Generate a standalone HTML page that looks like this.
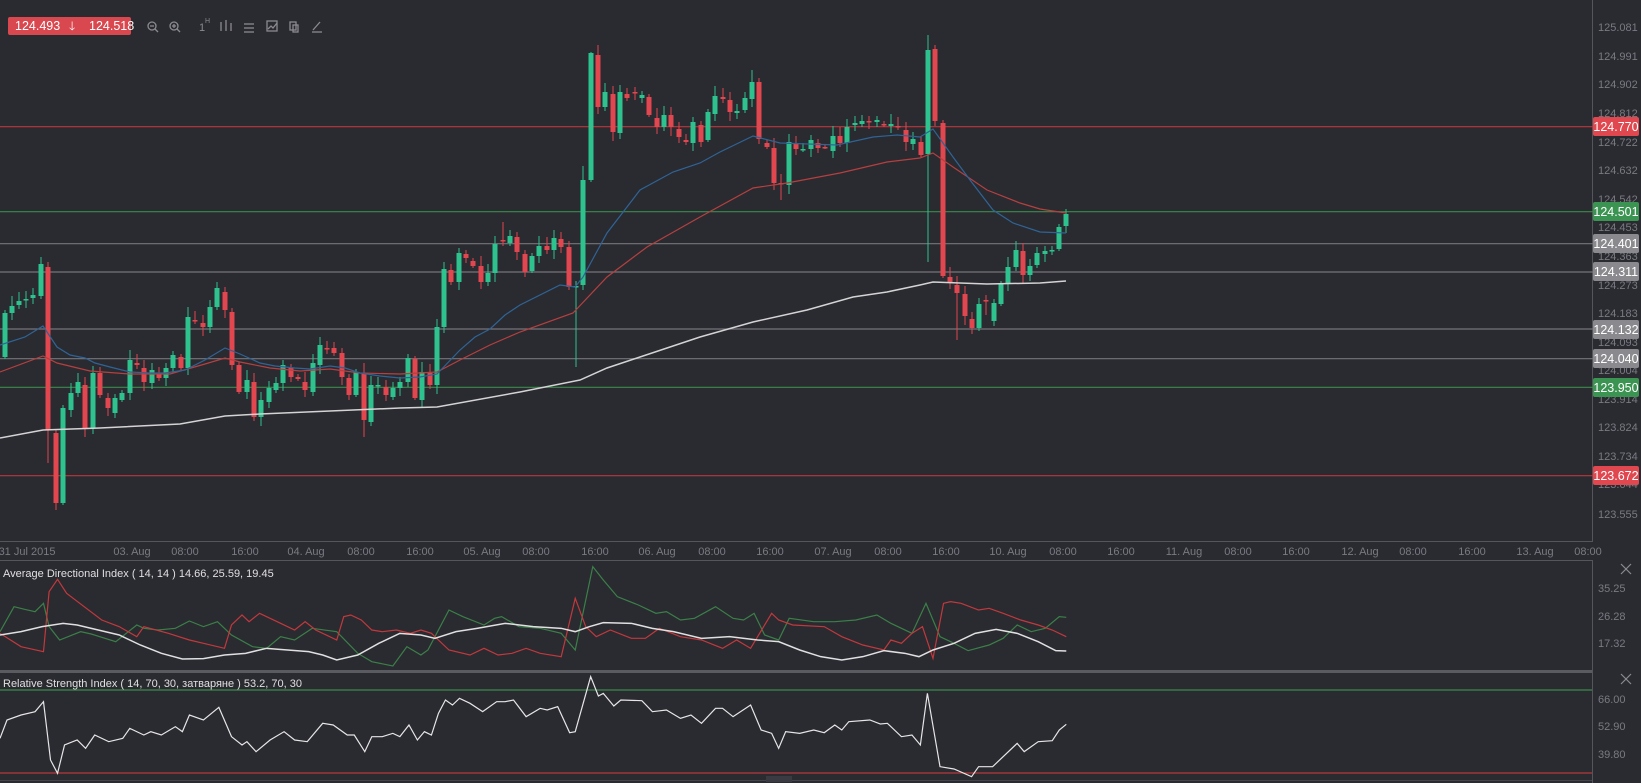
<!DOCTYPE html>
<html><head><meta charset="utf-8"><style>
html,body{margin:0;padding:0;background:#2a2a31;width:1641px;height:783px;overflow:hidden;font-family:"Liberation Sans",sans-serif;}
svg{display:block}
</style></head><body>
<svg id="s" width="1641" height="783" xmlns="http://www.w3.org/2000/svg" font-family="Liberation Sans, sans-serif">
<rect width="1641" height="783" fill="#2a2a31"/>
<line x1="1592.5" y1="0" x2="1592.5" y2="542" stroke="#55555c" stroke-width="1"/>
<line x1="0" y1="541.5" x2="1592" y2="541.5" stroke="#55555c"/>
<line x1="0" y1="560.5" x2="1592" y2="560.5" stroke="#55555c"/>
<line x1="1592.5" y1="560" x2="1592.5" y2="783" stroke="#55555c"/>
<rect x="0" y="670" width="1592" height="3" fill="#5a5a61"/>
<line x1="0" y1="780.5" x2="1592" y2="780.5" stroke="#44444a"/>
<g fill="#7a7a82" font-size="11" text-anchor="middle">
<text x="27" y="555">31 Jul 2015</text>
<text x="132" y="555">03. Aug</text><text x="185" y="555">08:00</text><text x="245" y="555">16:00</text>
<text x="306" y="555">04. Aug</text><text x="361" y="555">08:00</text><text x="420" y="555">16:00</text>
<text x="482" y="555">05. Aug</text><text x="536" y="555">08:00</text><text x="595" y="555">16:00</text>
<text x="657" y="555">06. Aug</text><text x="712" y="555">08:00</text><text x="770" y="555">16:00</text>
<text x="833" y="555">07. Aug</text><text x="888" y="555">08:00</text><text x="946" y="555">16:00</text>
<text x="1008" y="555">10. Aug</text><text x="1063" y="555">08:00</text><text x="1121" y="555">16:00</text>
<text x="1184" y="555">11. Aug</text><text x="1238" y="555">08:00</text><text x="1296" y="555">16:00</text>
<text x="1360" y="555">12. Aug</text><text x="1413" y="555">08:00</text><text x="1472" y="555">16:00</text>
<text x="1535" y="555">13. Aug</text><text x="1588" y="555">08:00</text>
</g>
<g fill="#7a7a82" font-size="11">
<text x="1598" y="31">125.081</text><text x="1598" y="60">124.991</text><text x="1598" y="88">124.902</text>
<text x="1598" y="117">124.812</text><text x="1598" y="146">124.722</text><text x="1598" y="174">124.632</text>
<text x="1598" y="203">124.542</text><text x="1598" y="231">124.453</text><text x="1598" y="260">124.363</text>
<text x="1598" y="289">124.273</text><text x="1598" y="317">124.183</text><text x="1598" y="346">124.093</text>
<text x="1598" y="374">124.004</text><text x="1598" y="403">123.914</text><text x="1598" y="431">123.824</text>
<text x="1598" y="460">123.734</text><text x="1598" y="488">123.644</text><text x="1598" y="518">123.555</text>
<text x="1598" y="592">35.25</text><text x="1598" y="620">26.28</text><text x="1598" y="647">17.32</text>
<text x="1598" y="703">66.00</text><text x="1598" y="730">52.90</text><text x="1598" y="758">39.80</text>
</g>
<g stroke-width="1.2">
<line x1="0" y1="126.7" x2="1593" y2="126.7" stroke="#b8393c"/>
<line x1="0" y1="211.7" x2="1593" y2="211.7" stroke="#3b8a4c"/>
<line x1="0" y1="243.7" x2="1593" y2="243.7" stroke="#75757a"/>
<line x1="0" y1="272" x2="1593" y2="272" stroke="#75757a"/>
<line x1="0" y1="329" x2="1593" y2="329" stroke="#75757a"/>
<line x1="0" y1="358.7" x2="1593" y2="358.7" stroke="#75757a"/>
<line x1="0" y1="387.3" x2="1593" y2="387.3" stroke="#3b8a4c"/>
<line x1="0" y1="475.7" x2="1593" y2="475.7" stroke="#b8393c"/>
<line x1="0" y1="690" x2="1592" y2="690" stroke="#3b8a4c"/>
<line x1="0" y1="773" x2="1592" y2="773" stroke="#b8393c"/>
</g>
<g font-size="12.5" fill="#fff" text-anchor="middle">
<rect x="1593" y="117" width="46" height="19" rx="2" fill="#e0474f"/><text x="1616" y="131">124.770</text>
<rect x="1593" y="202" width="46" height="19" rx="2" fill="#3c9452"/><text x="1616" y="216">124.501</text>
<rect x="1593" y="234" width="46" height="19" rx="2" fill="#8a8a8e"/><text x="1616" y="248">124.401</text>
<rect x="1593" y="262" width="46" height="19" rx="2" fill="#8a8a8e"/><text x="1616" y="276">124.311</text>
<rect x="1593" y="320" width="46" height="19" rx="2" fill="#8a8a8e"/><text x="1616" y="334">124.132</text>
<rect x="1593" y="349" width="46" height="19" rx="2" fill="#8a8a8e"/><text x="1616" y="363">124.040</text>
<rect x="1593" y="378" width="46" height="19" rx="2" fill="#3c9452"/><text x="1616" y="392">123.950</text>
<rect x="1593" y="466" width="46" height="19" rx="2" fill="#e0474f"/><text x="1616" y="480">123.672</text>
</g>
<g id="candles"></g>
<polyline fill="none" stroke="#d4d4d4" stroke-width="1.5" points="0,438 43,430 100,428 180,424 225,416 260,414 330,411 400,408 437,407 520,392 580,380 607,368 640,357 667,348 700,337 753,322 807,310 853,297 887,292 920,285 933,282 987,284 1040,283 1066,281"/>
<polyline fill="none" stroke="#b5403f" stroke-width="1.2" points="0,372 43,356 57,363 90,371 130,374 170,374 205,364 225,358 240,362 270,368 300,371 330,369 360,373 400,374 437,372 460,360 490,345 520,332 573,313 607,277 647,247 700,217 753,188 787,183 840,173 887,162 920,158 933,153 953,167 987,190 1020,203 1040,209 1066,213"/>
<polyline fill="none" stroke="#2f6495" stroke-width="1.2" points="0,345 25,337 43,326 57,347 70,355 85,358 95,363 110,367 130,372 150,373 165,373 185,370 205,360 225,348 240,354 260,363 275,366 295,368 310,369 330,366 345,368 360,373 380,376 400,378 420,377 437,374 460,350 475,337 490,329 505,315 520,305 560,285 575,287 583,277 607,233 640,190 673,172 700,163 720,152 753,136 780,143 837,145 873,137 897,135 920,137 933,129 953,157 970,180 993,210 1013,223 1040,232 1066,233"/>
<text x="3" y="577" font-size="11" fill="#e0e0e0">Average Directional Index ( 14, 14 ) 14.66, 25.59, 19.45</text>
<g transform="translate(0,560) scale(0.7015,0.33333)" fill="none" stroke-width="1.2">
<polyline vector-effect="non-scaling-stroke" stroke="#3b8048" points="0,215 20,140 35,148 50,155 62,130 70,200 85,240 115,215 130,222 165,245 195,195 205,205 225,210 250,205 270,183 290,200 310,185 330,225 360,260 380,265 400,230 420,240 445,205 480,215 510,280 530,305 560,318 580,260 600,285 610,270 640,150 660,170 690,195 705,175 715,170 740,200 770,205 800,220 820,270 845,20 860,60 880,110 910,135 935,160 950,155 970,180 990,175 1020,140 1045,175 1060,180 1075,160 1090,225 1110,240 1125,175 1160,185 1190,185 1220,180 1250,165 1270,190 1300,220 1320,130 1340,230 1360,250 1380,272 1410,255 1430,235 1450,195 1470,215 1490,205 1510,170 1520,172"/>
<polyline vector-effect="non-scaling-stroke" stroke="#c2393c" points="0,220 30,260 62,275 70,95 82,58 95,100 120,140 145,180 170,200 195,230 205,200 240,220 270,240 290,250 320,265 330,195 345,165 355,185 370,160 400,190 420,210 435,185 450,210 480,240 490,170 500,165 515,180 530,210 545,215 565,210 585,220 600,210 615,220 640,270 670,285 690,265 710,285 730,280 750,265 770,280 800,290 820,115 835,200 850,230 870,210 900,235 920,235 940,205 970,230 1000,240 1030,265 1050,240 1070,265 1100,160 1110,180 1130,195 1175,200 1200,230 1230,255 1260,270 1270,240 1285,250 1300,220 1315,200 1330,295 1345,130 1355,125 1370,130 1395,150 1410,145 1430,160 1455,180 1480,195 1500,210 1520,230"/>
<polyline vector-effect="non-scaling-stroke" stroke="#e0e0e0" stroke-width="1.5" points="0,225 30,215 60,200 90,190 110,195 140,210 170,225 200,255 230,280 260,297 290,296 320,285 350,280 380,265 410,270 440,275 460,285 480,300 510,285 540,250 570,220 600,225 620,235 650,215 680,205 720,190 760,200 800,205 820,215 840,200 860,188 900,190 930,205 960,215 1000,235 1040,230 1080,240 1110,245 1140,270 1170,290 1200,300 1230,290 1260,272 1290,280 1310,290 1330,270 1360,250 1390,220 1420,208 1450,220 1480,245 1505,272 1520,273"/>
</g>
<text x="3" y="687" font-size="11" fill="#e0e0e0">Relative Strength Index ( 14, 70, 30, затваряне ) 53.2, 70, 30</text>
<g transform="translate(0,560) scale(0.7015,0.33333)" fill="none">
<polyline vector-effect="non-scaling-stroke" stroke="#e6e6e6" stroke-width="1.2" points="0,535 10,480 30,465 50,455 62,425 72,600 82,640 92,555 110,540 122,565 135,525 155,545 175,535 185,505 205,525 215,515 230,525 250,500 260,515 270,465 290,480 312,442 330,530 345,555 352,545 365,575 385,540 405,515 420,540 438,545 460,490 475,495 495,525 505,525 520,575 530,530 545,530 560,520 570,530 583,495 595,540 605,515 615,525 625,460 635,420 645,435 655,415 670,430 688,455 708,425 720,425 732,420 750,470 770,445 780,450 795,440 812,518 820,515 842,350 853,408 860,400 875,438 885,420 915,422 930,455 950,450 970,475 985,465 1000,490 1020,445 1030,445 1045,470 1070,435 1085,510 1100,520 1110,565 1120,515 1140,520 1160,510 1175,518 1190,495 1200,510 1210,485 1240,480 1255,492 1265,490 1285,530 1300,525 1312,555 1322,400 1340,620 1360,627 1385,650 1395,620 1415,620 1450,550 1460,575 1480,545 1500,542 1510,510 1520,493"/>
</g>
<g stroke="#8a8a90" stroke-width="1.2">
<line x1="1621" y1="564" x2="1631" y2="574"/><line x1="1631" y1="564" x2="1621" y2="574"/>
<line x1="1621" y1="674" x2="1631" y2="684"/><line x1="1631" y1="674" x2="1621" y2="684"/>
</g>
<rect x="766" y="776" width="26" height="6" fill="#3a3a42"/>
<rect x="8" y="17" width="123" height="18" rx="2" fill="#d9474f"/>
<text x="15" y="30" font-size="12.5" fill="#fff">124.493</text>
<text x="69" y="30" font-size="12" fill="#fff">🡓</text>
<text x="89" y="30" font-size="12.5" fill="#fff">124.518</text>
<g stroke="#8a8a90" fill="none" stroke-width="1.3">
<circle cx="152" cy="26" r="4"/><line x1="155" y1="29" x2="158" y2="32"/><line x1="150" y1="26" x2="154" y2="26"/>
<circle cx="174" cy="26" r="4"/><line x1="177" y1="29" x2="180" y2="32"/><line x1="172" y1="26" x2="176" y2="26"/><line x1="174" y1="24" x2="174" y2="28"/>
<line x1="221" y1="22" x2="221" y2="31"/><line x1="226" y1="20" x2="226" y2="31"/><line x1="231" y1="23" x2="231" y2="31"/>
<line x1="244" y1="24" x2="254" y2="24"/><line x1="244" y1="28" x2="254" y2="28"/><line x1="244" y1="32" x2="254" y2="32"/>
<rect x="267" y="21" width="10" height="10"/><polyline points="268,29 271,26 273,28 277,23"/>
<rect x="290" y="22" width="6" height="8"/><rect x="293" y="25" width="5" height="7"/>
<line x1="312" y1="32" x2="322" y2="32"/><line x1="313" y1="30" x2="320" y2="22"/>
</g>
<text x="199" y="31" font-size="11" fill="#8a8a90">1</text><text x="205" y="23" font-size="7" fill="#8a8a90">H</text>
</svg>
<script>
var d=[[5,357,313],[12,313,306],[19,305,301],[26,299,299],[33,298,295],[41,296,264,257],[48,267,430,0,463],[56,433,503,0,510],[63,503,408],[71,410,393],[78,393,382],[85,385,428],[93,428,373],[100,373,395],[108,398,408],[115,413,398],[122,400,393],[130,393,360],[137,363,365],[144,368,382],[152,383,370],[159,373,378],[166,378,368],[173,368,355],[181,357,368],[188,368,317],[195,320,320],[203,323,327],[210,327,307],[217,307,288],[225,292,310],[232,312,365],[239,365,392],[247,392,380],[254,382,417],[261,417,400],[269,402,388],[276,390,383],[283,383,365],[291,368,377],[298,377,379],[305,382,390],[313,392,363],[320,365,345],[327,348,348],[334,348,353],[342,353,377],[349,378,395],[356,395,372],[364,373,420,0,437],[371,422,385],[378,385,385],[386,387,395],[393,397,388],[400,388,382],[408,382,358],[415,359,398],[422,400,372],[430,373,385],[437,385,327],[444,327,269],[451,270,282],[459,282,253],[466,254,258],[473,261,266],[481,266,282],[488,282,273],[495,273,244],[503,240,240,222],[510,243,236],[517,237,252],
[525,254,272],[532,271,256],[539,256,246],[547,246,250],[554,250,238],[561,239,247],[569,247,287],[576,287,286,0,367],[583,285,180,166],[591,180,53,52],[598,55,107],[605,107,92],[613,94,132],[620,133,92],[627,94,98],[635,92,92],[642,98,95],[649,97,115],[657,118,127],[664,127,115],[671,115,127],[679,129,137],[686,140,142],[693,143,122],[701,125,142],[708,140,112],[715,114,96],[723,97,99],[730,100,112],[737,113,111],[745,110,98],[752,99,82,70],[759,82,139],[767,143,147],[774,148,183],[781,183,183,0,200],[789,185,142],[796,143,149],[803,149,149],[811,149,140],[818,143,148],[825,147,147],[833,151,136],[840,136,143],[847,143,127],[855,125,123],[862,124,121],[869,121,121],[877,122,120],[884,124,125],[891,126,124],[898,126,126],[906,130,142],[913,144,139],[921,142,155],[928,154,50,35,262],[935,49,121],[943,123,276],[950,277,282],[957,285,293,0,340],[965,294,316],[972,319,328],[979,328,304],[986,300,300,295,315],[994,321,303],[1001,304,284],[1008,284,267],[1016,267,250],[1023,251,275],[1030,275,266],[1037,265,253],[1045,254,251],[1052,250,250],[1059,249,227],[1066,226,214,209]];
var g=document.getElementById('candles'),h='';
d.forEach(function(c,i){var x=c[0],o=c[1],cl=c[2];var top=Math.min(o,cl),bot=Math.max(o,cl);
var hi=c[3]||top-(3+(i*7)%8),lo=c[4]||bot+(2+(i*5)%8);
var col=cl<o?'#2ec28f':(cl>o?'#e2464e':((i%2)?'#2ec28f':'#e2464e'));
h+='<line x1="'+x+'" y1="'+hi+'" x2="'+x+'" y2="'+lo+'" stroke="'+col+'" stroke-width="1"/>';
h+='<rect x="'+(x-2.5)+'" y="'+top+'" width="5" height="'+Math.max(bot-top,1.5)+'" fill="'+col+'"/>';});
g.innerHTML=h;
</script>
</body></html>
